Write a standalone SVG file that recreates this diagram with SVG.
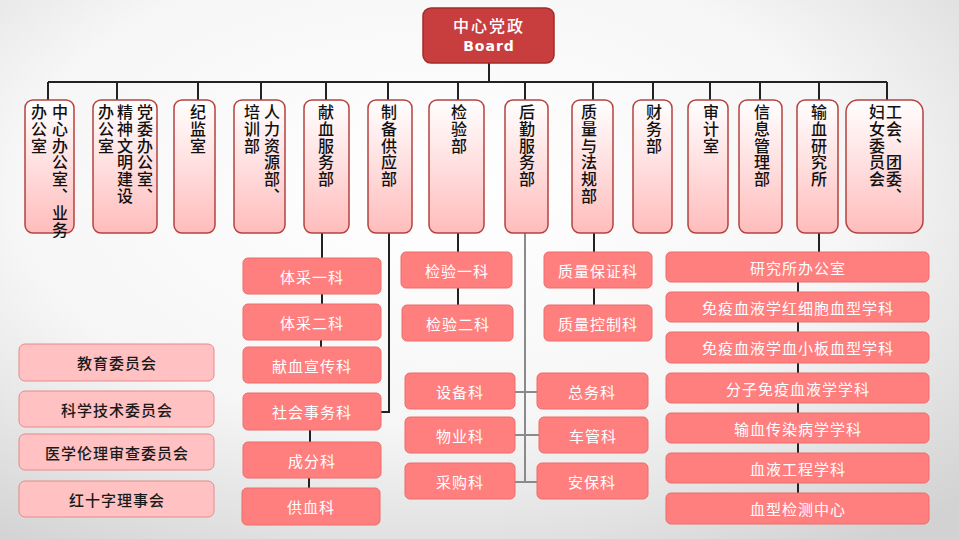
<svg xmlns="http://www.w3.org/2000/svg" width="959" height="539" viewBox="0 0 959 539">
<defs>
<radialGradient id="bg" cx="0.45" cy="0.35" r="0.8">
<stop offset="0" stop-color="#ffffff"/>
<stop offset="0.55" stop-color="#f6f6f6"/>
<stop offset="1" stop-color="#d2d2d2"/>
</radialGradient>
<linearGradient id="topg" x1="0" y1="0" x2="0" y2="1">
<stop offset="0" stop-color="#ffffff"/>
<stop offset="0.5" stop-color="#ffdede"/>
<stop offset="1" stop-color="#ffbcbc"/>
</linearGradient>
<style>
.top rect{fill:url(#topg);stroke:#b5423f;stroke-width:1.5}
.vt{font-family:"Noto Sans CJK SC","Noto Sans CJK JP",sans-serif;font-size:16px;font-weight:500;fill:#111;writing-mode:vertical-rl;letter-spacing:0.8px}
.sub rect{fill:#ff7f7f;stroke:#ec6c6c;stroke-width:1}
.sub text{font-family:"Noto Sans CJK SC","Noto Sans CJK JP",sans-serif;font-size:15px;fill:#ffffff;text-anchor:middle;dominant-baseline:central;letter-spacing:1px}
.com rect{fill:#ffc1c1;stroke:#e58a8a;stroke-width:1}
.com text{font-family:"Noto Sans CJK SC","Noto Sans CJK JP",sans-serif;font-size:15px;font-weight:500;fill:#1a1a1a;text-anchor:middle;dominant-baseline:central;letter-spacing:1px}
.ln{stroke:#222;stroke-width:2;fill:none}
.lg{stroke:#8a8a8a;stroke-width:2;fill:none}
</style>
</defs>
<rect x="0" y="0" width="959" height="539" fill="url(#bg)"/>

<g id="connectors">
<path class="ln" d="M489 63V82M48 82H887M48 82V100M117 82V100M198 82V100M261 82V100M326 82V100M388 82V100M458 82V100M525 82V100M593 82V100M653 82V100M710 82V100M760 82V100M819 82V100M887 82V100"/>
<path class="ln" d="M322 233V258M322 294V304M321 340V347M310 430V442M309 478V488"/>
<path class="ln" d="M389 233V412H381"/>
<path class="ln" d="M458 233V252M458 288V305"/>
<path class="lg" d="M525 233V482M515 392H537M515 435H539M515 482H537"/>
<path class="ln" d="M594 233V252M594 288V305"/>
<path class="ln" d="M819 233V252M798 282V292M798 322V332M798 363V373M798 403V413M798 443V453M798 483V493"/>
</g>

<g id="board">
<rect x="423" y="8" width="131" height="55" rx="8" fill="#c83e3e" stroke="#a52a2a" stroke-width="1.5"/>
<text x="489" y="25" font-family="'Noto Sans CJK SC',sans-serif" font-size="16" font-weight="500" fill="#fff" text-anchor="middle" dominant-baseline="central" letter-spacing="2">中心党政</text>
<text x="489" y="46" font-family="'DejaVu Sans',sans-serif" font-size="14" font-weight="bold" fill="#fff" text-anchor="middle" dominant-baseline="central" letter-spacing="1">Board</text>
</g>

<g id="d1" class="top"><rect x="25" y="100" width="49" height="133" rx="8"/><text class="vt" x="60" y="104">中心办公室、业务</text><text class="vt" x="39" y="104">办公室</text></g>
<g id="d2" class="top"><rect x="93" y="100" width="64" height="133" rx="8"/><text class="vt" x="145" y="104">党委办公室、</text><text class="vt" x="125" y="104">精神文明建设</text><text class="vt" x="106" y="104">办公室</text></g>
<g id="d3" class="top"><rect x="174" y="100" width="41" height="133" rx="8"/><text class="vt" x="198" y="104">纪监室</text></g>
<g id="d4" class="top"><rect x="234" y="100" width="51" height="133" rx="8"/><text class="vt" x="272" y="104">人力资源部、</text><text class="vt" x="252" y="104">培训部</text></g>
<g id="d5" class="top"><rect x="304" y="100" width="45" height="133" rx="8"/><text class="vt" x="326" y="104">献血服务部</text></g>
<g id="d6" class="top"><rect x="368" y="100" width="44" height="133" rx="8"/><text class="vt" x="389" y="104">制备供应部</text></g>
<g id="d7" class="top"><rect x="429" y="100" width="55" height="133" rx="8"/><text class="vt" x="459" y="104">检验部</text></g>
<g id="d8" class="top"><rect x="505" y="100" width="43" height="133" rx="8"/><text class="vt" x="527" y="104">后勤服务部</text></g>
<g id="d9" class="top"><rect x="572" y="100" width="41" height="133" rx="8"/><text class="vt" x="589" y="104">质量与法规部</text></g>
<g id="d10" class="top"><rect x="633" y="100" width="39" height="133" rx="8"/><text class="vt" x="654" y="104">财务部</text></g>
<g id="d11" class="top"><rect x="688" y="100" width="40" height="133" rx="8"/><text class="vt" x="711" y="104">审计室</text></g>
<g id="d12" class="top"><rect x="739" y="100" width="43" height="133" rx="8"/><text class="vt" x="762" y="104">信息管理部</text></g>
<g id="d13" class="top"><rect x="797" y="100" width="41" height="133" rx="8"/><text class="vt" x="819" y="104">输血研究所</text></g>
<g id="d14" class="top"><rect x="846" y="100" width="77" height="133" rx="12"/><text class="vt" x="894" y="104">工会、团委、</text><text class="vt" x="877" y="104">妇女委员会</text></g>

<g id="s1" class="sub"><rect x="243" y="258" width="138" height="36" rx="5"/><text x="312" y="276">体采一科</text></g>
<g id="s2" class="sub"><rect x="243" y="304" width="138" height="36" rx="5"/><text x="312" y="322">体采二科</text></g>
<g id="s3" class="sub"><rect x="243" y="347" width="138" height="36" rx="5"/><text x="312" y="365">献血宣传科</text></g>
<g id="s4" class="sub"><rect x="243" y="393" width="138" height="37" rx="5"/><text x="312" y="411">社会事务科</text></g>
<g id="s5" class="sub"><rect x="243" y="442" width="138" height="36" rx="5"/><text x="312" y="460">成分科</text></g>
<g id="s6" class="sub"><rect x="242" y="488" width="138" height="37" rx="5"/><text x="311" y="506">供血科</text></g>

<g id="s7" class="sub"><rect x="401" y="252" width="111" height="36" rx="5"/><text x="457" y="270">检验一科</text></g>
<g id="s8" class="sub"><rect x="402" y="305" width="111" height="36" rx="5"/><text x="458" y="323">检验二科</text></g>

<g id="s9" class="sub"><rect x="405" y="373" width="110" height="36" rx="5"/><text x="460" y="391">设备科</text></g>
<g id="s10" class="sub"><rect x="405" y="417" width="110" height="36" rx="5"/><text x="460" y="435">物业科</text></g>
<g id="s11" class="sub"><rect x="405" y="463" width="110" height="36" rx="5"/><text x="460" y="481">采购科</text></g>
<g id="s12" class="sub"><rect x="537" y="373" width="111" height="36" rx="5"/><text x="592" y="391">总务科</text></g>
<g id="s13" class="sub"><rect x="539" y="417" width="109" height="36" rx="5"/><text x="593" y="435">车管科</text></g>
<g id="s14" class="sub"><rect x="537" y="463" width="111" height="36" rx="5"/><text x="592" y="481">安保科</text></g>

<g id="s15" class="sub"><rect x="544" y="252" width="108" height="36" rx="5"/><text x="598" y="270">质量保证科</text></g>
<g id="s16" class="sub"><rect x="544" y="305" width="108" height="36" rx="5"/><text x="598" y="323">质量控制科</text></g>

<g id="r1" class="sub"><rect x="666" y="252" width="263" height="30" rx="5"/><text x="798" y="267">研究所办公室</text></g>
<g id="r2" class="sub"><rect x="666" y="292" width="263" height="30" rx="5"/><text x="798" y="307">免疫血液学红细胞血型学科</text></g>
<g id="r3" class="sub"><rect x="666" y="332" width="263" height="31" rx="5"/><text x="798" y="347">免疫血液学血小板血型学科</text></g>
<g id="r4" class="sub"><rect x="666" y="373" width="263" height="30" rx="5"/><text x="798" y="388">分子免疫血液学学科</text></g>
<g id="r5" class="sub"><rect x="666" y="413" width="263" height="30" rx="5"/><text x="798" y="428">输血传染病学学科</text></g>
<g id="r6" class="sub"><rect x="666" y="453" width="263" height="30" rx="5"/><text x="798" y="468">血液工程学科</text></g>
<g id="r7" class="sub"><rect x="666" y="493" width="263" height="31" rx="5"/><text x="798" y="508">血型检测中心</text></g>

<g id="c1" class="com"><rect x="19" y="344" width="195" height="37" rx="6"/><text x="117" y="362">教育委员会</text></g>
<g id="c2" class="com"><rect x="19" y="391" width="195" height="36" rx="6"/><text x="117" y="409">科学技术委员会</text></g>
<g id="c3" class="com"><rect x="19" y="434" width="195" height="36" rx="6"/><text x="117" y="452">医学伦理审查委员会</text></g>
<g id="c4" class="com"><rect x="19" y="481" width="195" height="36" rx="6"/><text x="117" y="499">红十字理事会</text></g>
</svg>
